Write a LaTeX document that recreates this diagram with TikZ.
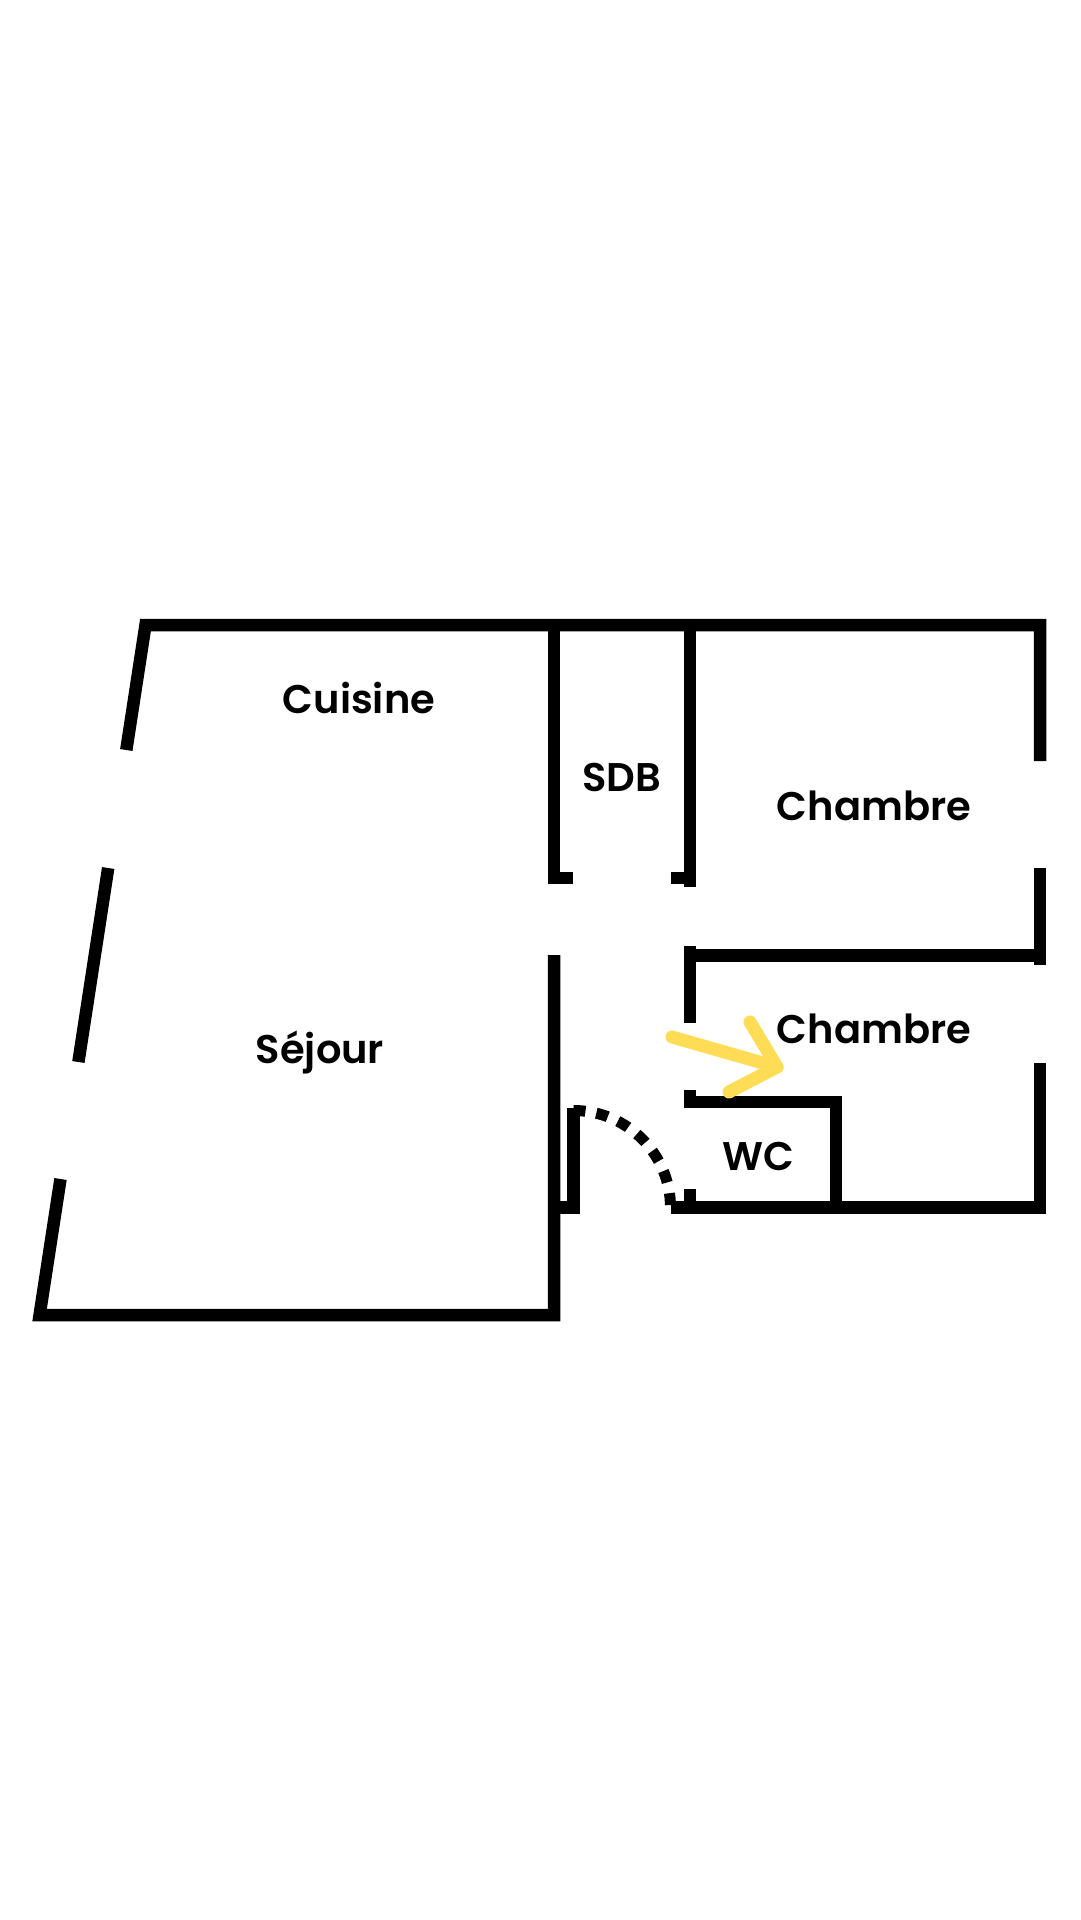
\documentclass[tikz,border=0pt]{standalone}
\usepackage{fontspec}
\setmainfont{Poppins}[BoldFont=* SemiBold]
\usepackage{tikz}
\usetikzlibrary{calc}
\definecolor{arrowyellow}{HTML}{FFDC55}
\tikzset{
	wall/.style={line width=12.5pt, line join=miter, color=black},
	doorarc/.style={line width=11pt, dash pattern=on 12pt off 11pt},
	roomlabel/.style={anchor=base, font=\fontsize{40}{48}\selectfont\bfseries, inner sep=0pt},
	arrowline/.style={line width=13pt, color=arrowyellow, line cap=round, line join=round}
}

\begin{document}
\begin{tikzpicture}[x=1pt, y=-1pt]
			%%%%% START %%%%%
			\fill[white] (0, 0) rectangle (1080, 1920);
			\useasboundingbox (0, 0) rectangle (1080, 1920);
			
			% outer walls, top and left
			\draw[wall] (1040, 761) -- (1040, 625) -- (145.5, 625) -- (126.3, 750);
			\draw[wall] (108.2, 868) -- (78.4, 1062);
			\draw[wall] (60.5, 1179) -- (39.6, 1315) -- (554, 1315) -- (554, 955);
			
			% SDB
			\draw[wall] (554, 625) -- (554, 878) -- (573, 878);
			\draw[wall] (690, 625) -- (690, 887);
			\draw[wall] (671, 878) -- (684, 878);
			
			% chambres
			\draw[wall] (690, 946) -- (690, 1023);
			\draw[wall] (684, 955.5) -- (1046, 955.5);
			\draw[wall] (1040, 868) -- (1040, 965);
			\draw[wall] (1040, 1063) -- (1040, 1207.5) -- (671, 1207.5);
			
			% WC
			\draw[wall] (690, 1090) -- (690, 1102) -- (836, 1102) -- (836, 1207.5);
			\draw[wall] (690, 1189) -- (690, 1207.5);
			
			% porte d'entree
			\draw[wall] (554, 1207.5) -- (573.5, 1207.5) -- (573.5, 1108);
			\coordinate (hinge) at (573.5, 1207.5);
			\draw[doorarc] ($(hinge)+(0, -97)$) arc[start angle=90, end angle=0, radius=97pt];
			
			% pieces
			\node[roomlabel] (cuisine) at (359, 713) {Cuisine};
			\node[roomlabel] (sdb) at (621.6, 791) {SDB};
			\node[roomlabel] (chambreA) at (874, 820) {Chambre};
			\node[roomlabel] (sejour) at (320, 1063) {Séjour};
			\node[roomlabel] (chambreB) at (874, 1043) {Chambre};
			\node[roomlabel] (wc) at (758, 1170) {WC};
			
			% fleche
			\coordinate (arrowtail) at (672, 1037);
			\coordinate (arrowtip) at (777, 1067);
			\draw[arrowline] (arrowtail) -- (arrowtip);
			\draw[arrowline] ($(arrowtip)+(-27, -45)$) -- (arrowtip) -- ($(arrowtip)+(-48, 25)$);
			%%%%% END %%%%%
\end{tikzpicture}
\end{document}
